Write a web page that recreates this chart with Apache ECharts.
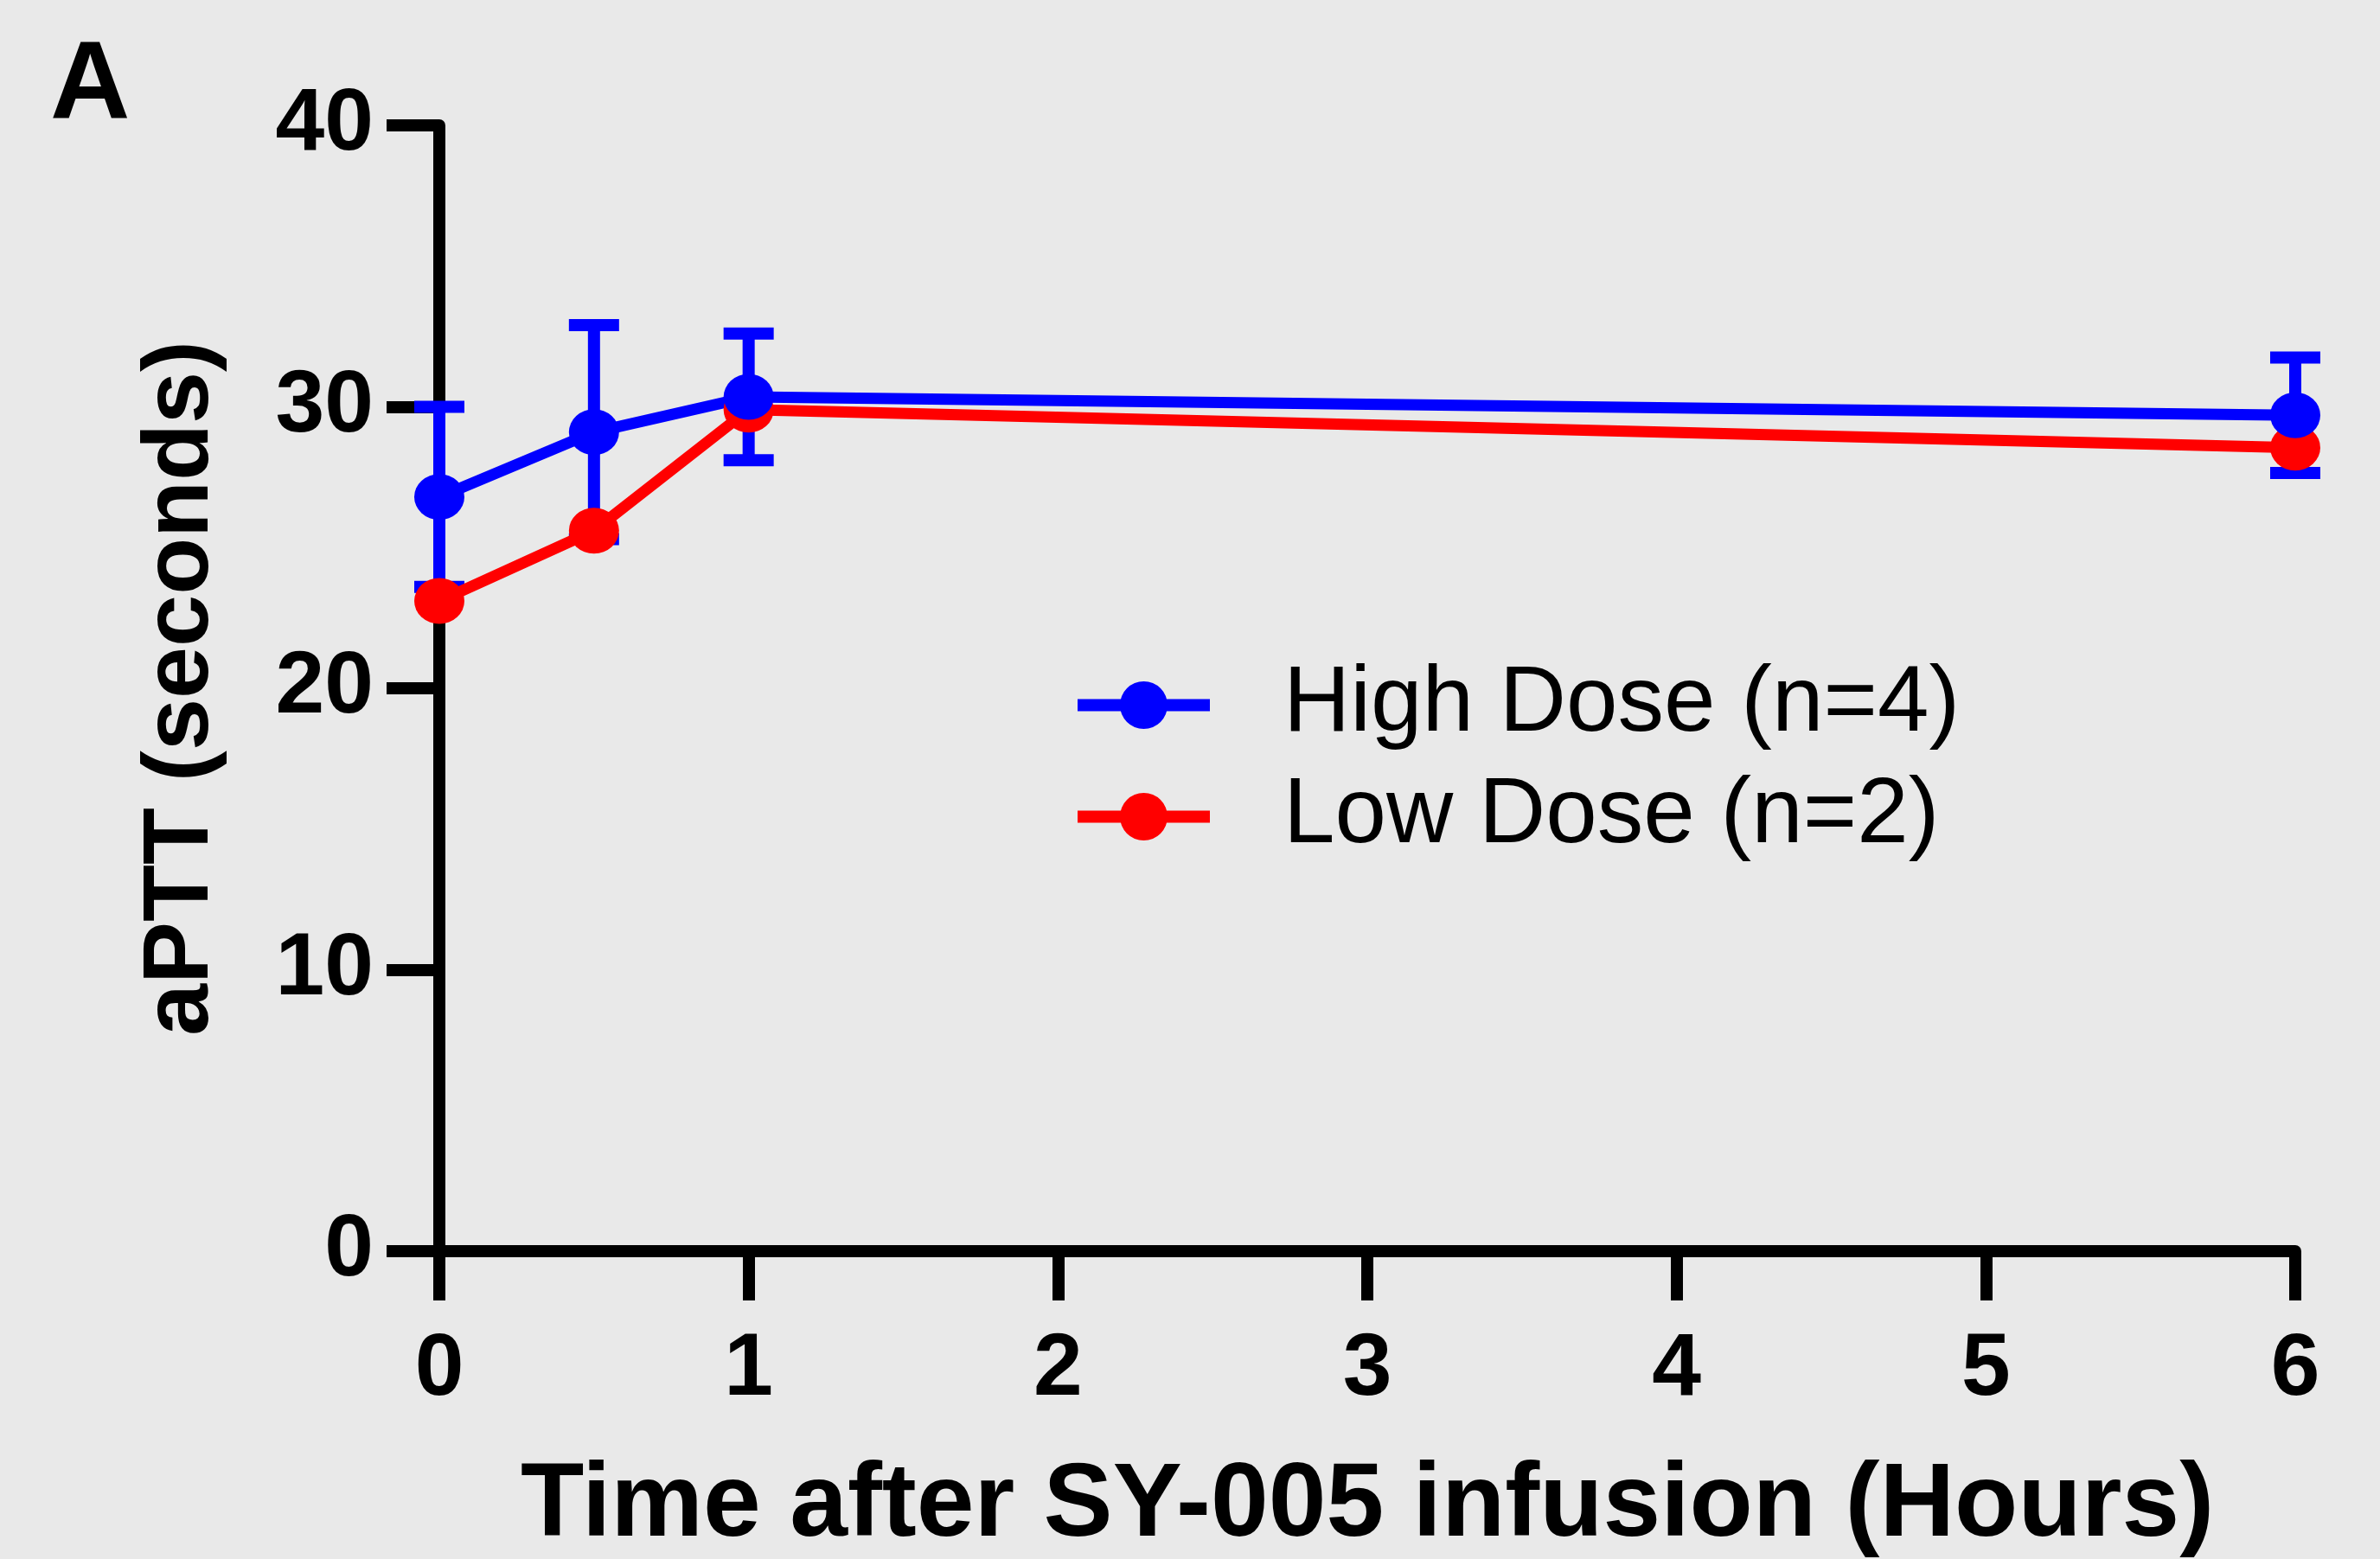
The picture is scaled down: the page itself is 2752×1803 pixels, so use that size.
<!DOCTYPE html>
<html>
<head>
<meta charset="utf-8">
<script src="https://cdn.jsdelivr.net/npm/echarts@6/dist/echarts.min.js"></script>
<style>
  html, body { margin: 0; padding: 0; background: #e9e9e9; }
  #mainChart { width: 2752px; height: 1803px; }
</style>
</head>
<body>
<div id="mainChart"></div>
<script>
// aPTT after SY-005 infusion
var hours = [0, 0.5, 1, 6];
var highMean = [26.8, 29.1, 30.35, 29.7];
var highSd = [3.2, 3.8, 2.25, 2.05];
var lowMean = [23.1, 25.6, 29.9, 28.55];
var xTicks = [0, 1, 2, 3, 4, 5, 6];
var yTicks = [0, 10, 20, 30, 40];

var BLUE = '#0000ff';
var RED = '#ff0000';
var FONT = 'Liberation Sans';

var highData = hours.map(function (h, i) { return [h, highMean[i]]; });
var lowData = hours.map(function (h, i) { return [h, lowMean[i]]; });
var errData = hours.map(function (h, i) { return [h, highMean[i], highSd[i]]; });

// legend icon: bar with a dot in the middle (153 x 55)
var legendIcon = 'path://M0,20.5 L153,20.5 L153,34.5 L0,34.5 Z M49,27.5 A27.5,27.5 0 1,1 104,27.5 A27.5,27.5 0 1,1 49,27.5 Z';

var myChart = echarts.init(document.getElementById('mainChart'));

myChart.setOption({
    animation: false,
    backgroundColor: '#e9e9e9',
    title: {
        text: 'A',
        left: 53,
        top: 33,
        textStyle: { fontFamily: FONT, fontWeight: 'bold', fontSize: 128, color: '#000' }
    },
    grid: {
        left: 508,
        right: 98,
        top: 145,
        bottom: 356,
        containLabel: false,
        outerBoundsMode: 'none'
    },
    legend: {
        orient: 'vertical',
        left: 1241,
        top: 757,
        itemWidth: 153,
        itemHeight: 55,
        itemGap: 22,
        data: [
            { name: 'High Dose (n=4)', icon: legendIcon },
            { name: 'Low Dose (n=2)', icon: legendIcon }
        ],
        textStyle: {
            fontFamily: FONT,
            fontSize: 107,
            color: '#000',
            padding: [0, 0, 0, 80]
        }
    },
    xAxis: {
        type: 'value',
        min: 0,
        max: 6,
        interval: 1,
        name: 'Time after SY-005 infusion (Hours)',
        nameLocation: 'middle',
        nameGap: 236,
        nameMoveOverlap: false,
        nameTextStyle: { fontFamily: FONT, fontWeight: 'bold', fontSize: 120, color: '#000' },
        axisLine: { lineStyle: { color: '#000', width: 14 } },
        axisTick: { length: 57, lineStyle: { color: '#000', width: 14 } },
        axisLabel: {
            margin: 87,
            fontFamily: FONT, fontWeight: 'bold', fontSize: 102, color: '#000',
            formatter: function (v) { return xTicks.indexOf(v) >= 0 ? String(v) : ''; }
        },
        splitLine: { show: false }
    },
    yAxis: {
        type: 'value',
        min: 0,
        max: 40,
        interval: 10,
        name: 'aPTT (seconds)',
        nameLocation: 'middle',
        nameGap: 244,
        nameMoveOverlap: false,
        nameTextStyle: { fontFamily: FONT, fontWeight: 'bold', fontSize: 108, color: '#000' },
        axisLine: { show: true, lineStyle: { color: '#000', width: 14 } },
        axisTick: { show: true, length: 61, lineStyle: { color: '#000', width: 14 } },
        axisLabel: {
            margin: 76,
            fontFamily: FONT, fontWeight: 'bold', fontSize: 102, color: '#000',
            formatter: function (v) { return yTicks.indexOf(v) >= 0 ? String(v) : ''; }
        },
        splitLine: { show: false }
    },
    series: [
        {
            name: 'Low Dose (n=2)',
            type: 'line',
            data: lowData,
            symbol: 'circle',
            symbolSize: [58, 53],
            color: RED,
            itemStyle: { color: RED },
            lineStyle: { color: RED, width: 13 }
        },
        {
            name: 'err',
            type: 'custom',
            data: errData,
            renderItem: function (params, api) {
                var x = api.value(0), m = api.value(1), sd = api.value(2);
                var top = api.coord([x, m + sd]);
                var bot = api.coord([x, m - sd]);
                var half = 29;
                var style = { stroke: BLUE, lineWidth: 14 };
                return {
                    type: 'group',
                    children: [
                        { type: 'line', shape: { x1: top[0], y1: top[1], x2: bot[0], y2: bot[1] }, style: style },
                        { type: 'line', shape: { x1: top[0] - half, y1: top[1], x2: top[0] + half, y2: top[1] }, style: style },
                        { type: 'line', shape: { x1: bot[0] - half, y1: bot[1], x2: bot[0] + half, y2: bot[1] }, style: style }
                    ]
                };
            }
        },
        {
            name: 'High Dose (n=4)',
            type: 'line',
            data: highData,
            symbol: 'circle',
            symbolSize: [58, 53],
            color: BLUE,
            itemStyle: { color: BLUE },
            lineStyle: { color: BLUE, width: 13 }
        }
    ]
});
</script>
</body>
</html>
